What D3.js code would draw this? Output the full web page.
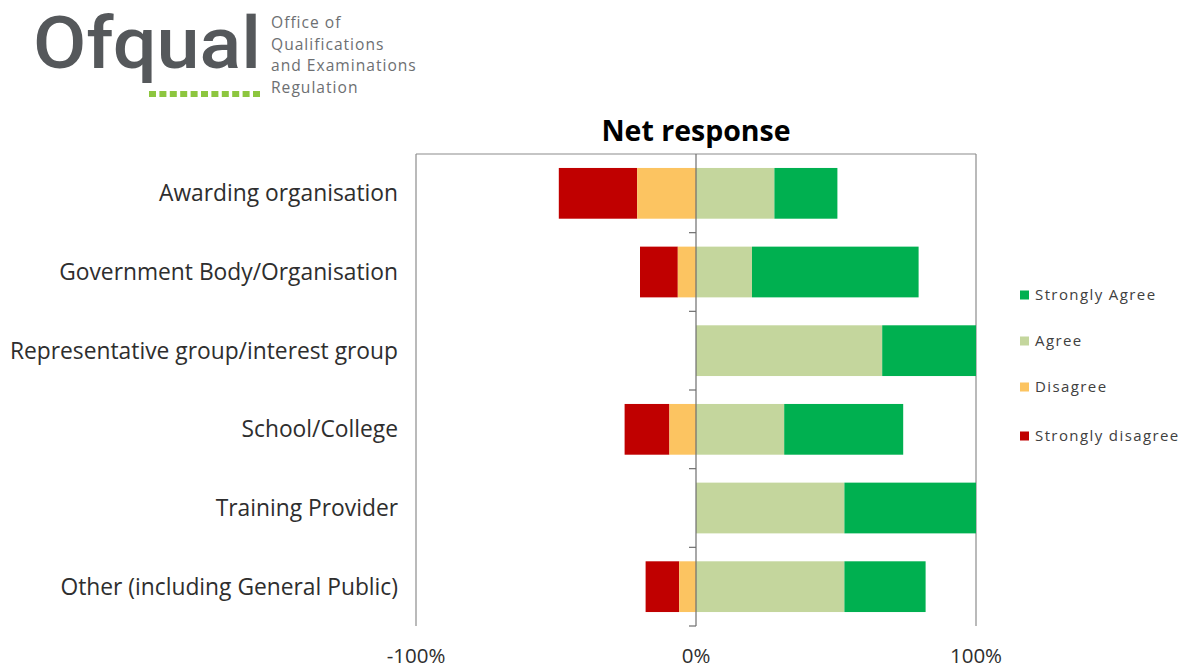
<!DOCTYPE html>
<html>
<head>
<meta charset="utf-8">
<script src="https://cdn.jsdelivr.net/npm/d3@7"></script>
<style>
  html, body { margin: 0; padding: 0; background: #fff; }
  svg { display: block; }
</style>
</head>
<body>
<svg id="chart" width="1189" height="669"></svg>
<script>
// Respondent groups, top to bottom
const categories = [
  "Awarding organisation",
  "Government Body/Organisation",
  "Representative group/interest group",
  "School/College",
  "Training Provider",
  "Other (including General Public)"
];

// Share of responses (%) per group
const stronglyDisagree = [28, 13.5, 0, 16, 0, 12];
const disagree         = [21, 6.5, 0, 9.5, 0, 6];
const agree            = [28, 20, 66.5, 31.5, 53, 53];
const stronglyAgree    = [22.5, 59.5, 33.5, 42.5, 47, 29];

const xTicks = [-100, 0, 100];
const legendLabels = ["Strongly Agree", "Agree", "Disagree", "Strongly disagree"];

const colors = {
  sd: "#C00000",
  d: "#FCC461",
  a: "#C4D69D",
  sa: "#00B050"
};

const svg = d3.select("#chart");
const font = "'Open Sans', 'Liberation Sans', sans-serif";

const plot = { left: 416, right: 976, top: 154, bottom: 626 };

const x = d3.scaleLinear().domain([-100, 100]).range([plot.left, plot.right]);
const y = d3.scaleBand().domain(categories).range([plot.top, plot.bottom]).paddingInner(0.355).paddingOuter(0.1775);

// Stacked segments: negatives grow leftwards from zero, positives rightwards
const segments = [];
categories.forEach((c, i) => {
  const dEnd = -disagree[i];
  const sdEnd = dEnd - stronglyDisagree[i];
  segments.push({ cat: c, x0: sdEnd, x1: dEnd, color: colors.sd });
  segments.push({ cat: c, x0: dEnd, x1: 0, color: colors.d });
  segments.push({ cat: c, x0: 0, x1: agree[i], color: colors.a });
  segments.push({ cat: c, x0: agree[i], x1: agree[i] + stronglyAgree[i], color: colors.sa });
});

// Plot frame: top, left and right edges
const frame = svg.append("g").attr("stroke", "#8c8c8c").attr("stroke-width", 1.2).attr("fill", "none");
frame.append("line").attr("x1", x(-100)).attr("x2", x(100)).attr("y1", plot.top).attr("y2", plot.top);
frame.append("line").attr("x1", x(-100)).attr("x2", x(-100)).attr("y1", plot.top).attr("y2", plot.bottom);
frame.append("line").attr("x1", x(100)).attr("x2", x(100)).attr("y1", plot.top).attr("y2", plot.bottom);

svg.append("g").selectAll("rect")
  .data(segments.filter(s => s.x1 - s.x0 > 0))
  .join("rect")
  .attr("x", d => x(d.x0))
  .attr("width", d => x(d.x1) - x(d.x0))
  .attr("y", d => y(d.cat))
  .attr("height", y.bandwidth())
  .attr("fill", d => d.color);

// Category axis along zero, ticks at band boundaries
const boundaries = d3.range(categories.length + 1).map(i => plot.top + i * (plot.bottom - plot.top) / categories.length);
const axisG = svg.append("g").attr("stroke", "#6e6e6e").attr("stroke-width", 1.2);
axisG.append("line").attr("x1", x(0)).attr("x2", x(0)).attr("y1", plot.top).attr("y2", plot.bottom);
axisG.selectAll("line.tick").data(boundaries.slice(1)).join("line")
  .attr("class", "tick")
  .attr("x1", x(0) - 7).attr("x2", x(0))
  .attr("y1", d => d).attr("y2", d => d);

// Category labels
svg.append("g").selectAll("text")
  .data(categories)
  .join("text")
  .attr("x", 398)
  .attr("y", d => y(d) + y.bandwidth() / 2)
  .attr("dy", "0.35em")
  .attr("text-anchor", "end")
  .attr("font-family", font)
  .attr("font-size", 22.8)
  .attr("fill", "#2e2e2e")
  .text(d => d);

// Percentage tick labels
svg.append("g").selectAll("text")
  .data(xTicks)
  .join("text")
  .attr("x", d => x(d))
  .attr("y", 663)
  .attr("text-anchor", "middle")
  .attr("font-family", font)
  .attr("font-size", 20.5)
  .attr("fill", "#2e2e2e")
  .text(d => d3.format(".0%")(d / 100).replace("−", "-"));

// Title
svg.append("text")
  .attr("x", x(0))
  .attr("y", 141)
  .attr("text-anchor", "middle")
  .attr("font-family", font)
  .attr("font-weight", "bold")
  .attr("font-size", 28.5)
  .attr("fill", "#000")
  .text("Net response");

// Legend
const legendColors = [colors.sa, colors.a, colors.d, colors.sd];
const legendY = [295, 341, 387, 436];
const lg = svg.append("g");
legendLabels.forEach((lab, i) => {
  lg.append("rect").attr("x", 1020).attr("y", legendY[i] - 4.5).attr("width", 9).attr("height", 9).attr("fill", legendColors[i]);
  lg.append("text").attr("x", 1035).attr("y", legendY[i]).attr("dy", "0.35em")
    .attr("font-family", font).attr("font-size", 15).attr("letter-spacing", 1.4)
    .attr("fill", "#404040").text(lab);
});

// Organisation logo
const logo = svg.append("g");
logo.append("text")
  .attr("x", 33).attr("y", 68)
  .attr("font-family", "Roboto, 'Open Sans', sans-serif")
  .attr("font-weight", 500)
  .attr("font-size", 72)
  .attr("fill", "#55585b")
  .attr("textLength", 228)
  .attr("lengthAdjust", "spacingAndGlyphs")
  .text("Ofqual");
const logoLines = ["Office of", "Qualifications", "and Examinations", "Regulation"];
logo.selectAll("text.sub").data(logoLines).join("text")
  .attr("class", "sub")
  .attr("x", 271)
  .attr("y", (d, i) => 28 + i * 21.5)
  .attr("font-family", font)
  .attr("font-size", 15.6)
  .attr("letter-spacing", 1.0)
  .attr("fill", "#6d6f72")
  .text(d => d);
logo.selectAll("rect.dot").data(d3.range(11)).join("rect")
  .attr("class", "dot")
  .attr("x", d => 149 + d * 10.4)
  .attr("y", 91)
  .attr("width", 7)
  .attr("height", 6)
  .attr("fill", "#8dc63f");
</script>
</body>
</html>
